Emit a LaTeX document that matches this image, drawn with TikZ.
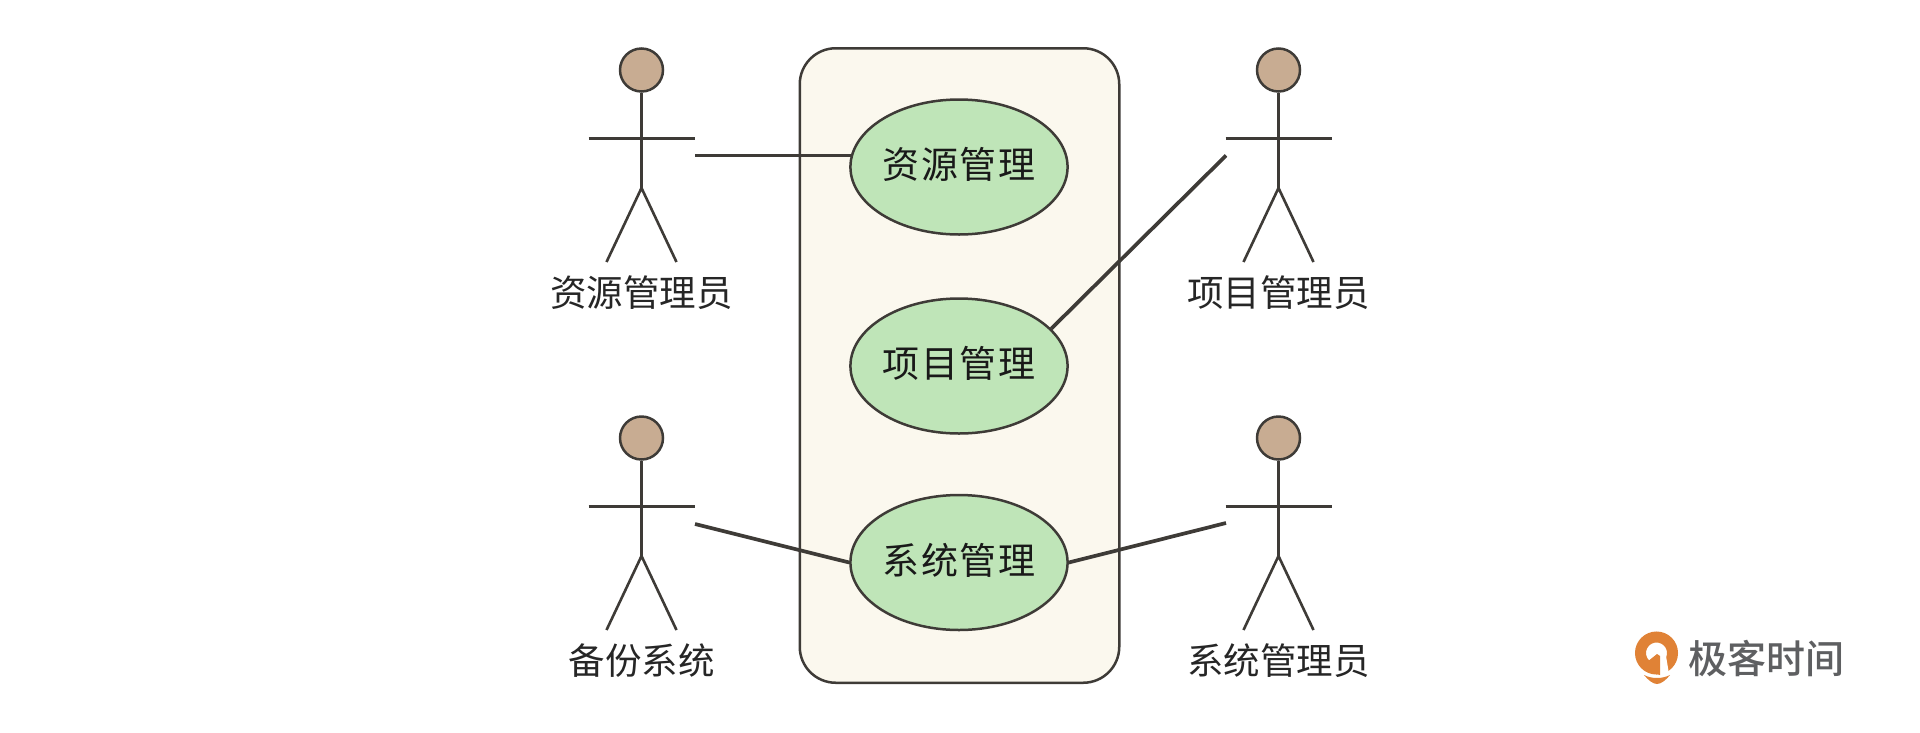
\documentclass[tikz,border=0pt]{standalone}
\usepackage{fontspec}
\usetikzlibrary{shapes.geometric}
\setmainfont{Noto Sans CJK SC}
\newfontfamily\casefont[LetterSpace=5]{Noto Sans CJK SC}
\newfontfamily\brandfont{Noto Sans CJK SC Medium}
\definecolor{inkline}{HTML}{3E3B37}
\definecolor{boxfill}{HTML}{FBF8EE}
\definecolor{casefill}{HTML}{BFE5B8}
\definecolor{headfill}{HTML}{C8AC92}
\definecolor{logoorange}{HTML}{E08236}
\definecolor{logogray}{HTML}{5E5F61}
\tikzset{
	usecase/.style={ellipse,draw=inkline,fill=casefill,line width=2.5pt,minimum width=211.5pt,minimum height=135pt,inner sep=0pt,text depth=8pt,text=black!90,font=\casefont\fontsize{37}{40}\selectfont},
	link/.style={draw=inkline,line width=3.7pt},
	limb/.style={draw=inkline,line width=2.6pt},
	pics/actor/.style={code={
		\node[circle,draw=inkline,fill=headfill,line width=2.5pt,minimum size=43pt,inner sep=0pt] (-head) at (0,0) {};
		\coordinate (-left) at (-53,68.5);
		\coordinate (-right) at (53,68.5);
		\coordinate (-hip) at (0,118);
		\draw[limb] (-head.south) -- (-hip);
		\draw[limb] (-left) -- (-right);
		\draw[limb] (-35,192) -- (-hip) -- (35,192);
		\node[font=\fontsize{36.5}{40}\selectfont,text=black!85,inner sep=0pt] (-name) at (0,223) {#1};
	}}
}
\begin{document}
\begin{tikzpicture}[x=1pt,y=-1pt]
\useasboundingbox (0,0) rectangle (1920,732);
\node[draw=inkline,fill=boxfill,line width=2.5pt,rounded corners=36pt,minimum width=319.5pt,minimum height=634.5pt,inner sep=0pt] (sysbox) at (959.5,365.5) {};
\node[usecase] (res) at (959,167) {资源管理};
\node[usecase] (proj) at (959,366) {项目管理};
\node[usecase] (sys) at (959,562.5) {系统管理};
% actors
\pic (resadmin) at (641.5,70) {actor=资源管理员};
\pic (projadmin) at (1278.5,70) {actor=项目管理员};
\pic (backup) at (641.5,438) {actor=备份系统};
\pic (sysadmin) at (1278.5,438) {actor=系统管理员};
\coordinate (resend) at (695,155.5);
\coordinate (projend) at (1226,155.5);
\coordinate (backend) at (695,524);
\coordinate (sysend) at (1226,523);
\draw[link] (resend) -- (resend -| res.173.8);
\draw[link] (projend) -- (proj.22);
\draw[link] (backend) -- (sys.west);
\draw[link] (sysend) -- (sys.east);
% logo
\draw[logoorange,line width=11pt] (1656.5,653) circle (16);
\fill[white] (1660,656) -- (1666,656) -- (1670,680) -- (1660,680) -- cycle;
\fill[logoorange] (1647,662) -- (1657,654) -- (1660,656) -- (1660,675) -- (1650,672) -- cycle;
\fill[logoorange] (1644,675) .. controls (1652,679) and (1662,679) .. (1670,675) .. controls (1666,680) and (1661,684) .. (1657,684) .. controls (1653,684) and (1648,680) .. (1644,675) -- cycle;
\node[font=\brandfont\fontsize{39}{42}\selectfont,text=logogray,inner sep=0pt] (brand) at (1766,658) {极客时间};
\end{tikzpicture}
\end{document}
